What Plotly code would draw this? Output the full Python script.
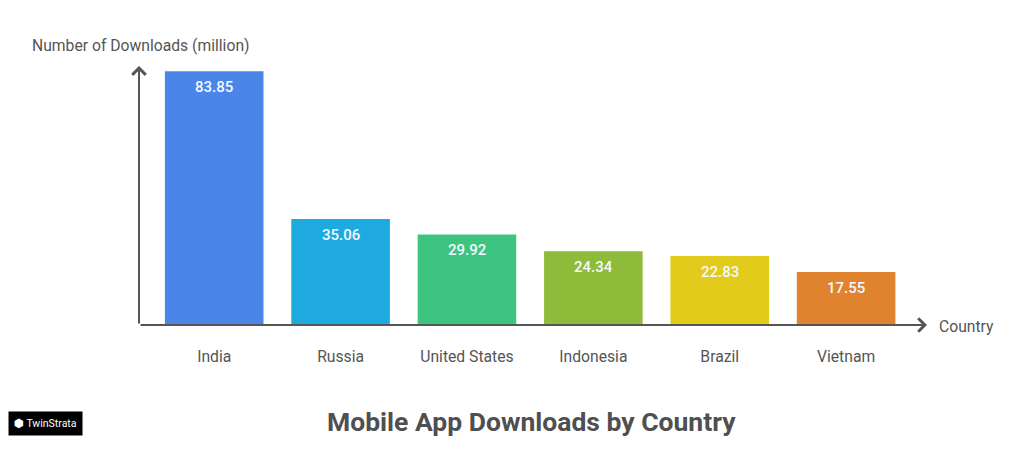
import plotly.graph_objects as go

countries = ["India", "Russia", "United States", "Indonesia", "Brazil", "Vietnam"]
downloads = [83.85, 35.06, 29.92, 24.34, 22.83, 17.55]
bar_colors = ["#4A86E8", "#1FAADF", "#3DC480", "#8FBB3A", "#E2CB1A", "#E0832F"]

W, H = 1024, 455
OFF = 8  # page body margin
L, R, T, B = 139 - OFF, 105, 66 - OFF, 138
pw, ph = W - L - R, H - T - B


def px(x):
    return (x - OFF - L) / pw


def py(y):
    return (H - B - (y - OFF)) / ph


fig = go.Figure()
fig.add_trace(go.Bar(
    x=countries, y=downloads,
    marker=dict(color=bar_colors, line=dict(width=0)),
    width=0.78,
    cliponaxis=False,
    hoverinfo="x+y",
))

fig.update_layout(
    width=W, height=H,
    margin=dict(l=L, r=R, t=T, b=B, pad=0),
    paper_bgcolor="white", plot_bgcolor="white",
    showlegend=False,
    font=dict(family="Roboto", color="#555555"),
    xaxis=dict(
        range=[-0.595, 5.64], showgrid=False, zeroline=False, showline=False,
        ticks="", tickfont=dict(family="Roboto", size=15.7, color="#555555"),
        ticklabelstandoff=20, fixedrange=True,
    ),
    yaxis=dict(
        range=[0, 85.6], showgrid=False, zeroline=False, showline=False,
        showticklabels=False, ticks="", fixedrange=True,
    ),
)

# value labels inside bars
for c, v in zip(countries, downloads):
    fig.add_annotation(x=c, y=v, xref="x", yref="y", text=f"{v:.2f}",
                       showarrow=False, yanchor="middle", yshift=-16,
                       font=dict(family="Roboto", size=15, weight=500, color="#F4F8FF"))

# axes arrows
fig.add_annotation(x=0, y=1, ax=0, ay=0, xref="x domain", yref="y domain",
                   axref="x domain", ayref="y domain", text="", showarrow=True,
                   arrowhead=4, arrowsize=1.3, arrowwidth=2, arrowcolor="#555555")
fig.add_annotation(x=1, y=0, ax=0, ay=0, xref="x domain", yref="y domain",
                   axref="x domain", ayref="y domain", text="", showarrow=True,
                   arrowhead=4, arrowsize=1.3, arrowwidth=2, arrowcolor="#555555")

# axis titles
fig.add_annotation(x=px(30), y=py(46), xref="paper", yref="paper",
                   text="Number of Downloads (million)",
                   showarrow=False, xanchor="left", yanchor="middle",
                   font=dict(family="Roboto", size=15.7, color="#555555"))
fig.add_annotation(x=px(937), y=py(326), xref="paper", yref="paper", text="Country",
                   showarrow=False, xanchor="left", yanchor="middle",
                   font=dict(family="Roboto", size=15.7, color="#555555"))

# title
fig.add_annotation(x=px(531), y=py(421), xref="paper", yref="paper",
                   text="<b>Mobile App Downloads by Country</b>", showarrow=False,
                   xanchor="center", yanchor="middle",
                   font=dict(family="Roboto", size=26.5, color="#4F4F4F"))

# logo
fig.add_annotation(x=px(8), y=py(423), xref="paper", yref="paper",
                   text="<b>⬢</b> TwinStrata", showarrow=False,
                   xanchor="left", yanchor="middle", bgcolor="black",
                   font=dict(family="Roboto", size=10.5, color="white"),
                   borderpad=5)

fig.write_html("out.html")
